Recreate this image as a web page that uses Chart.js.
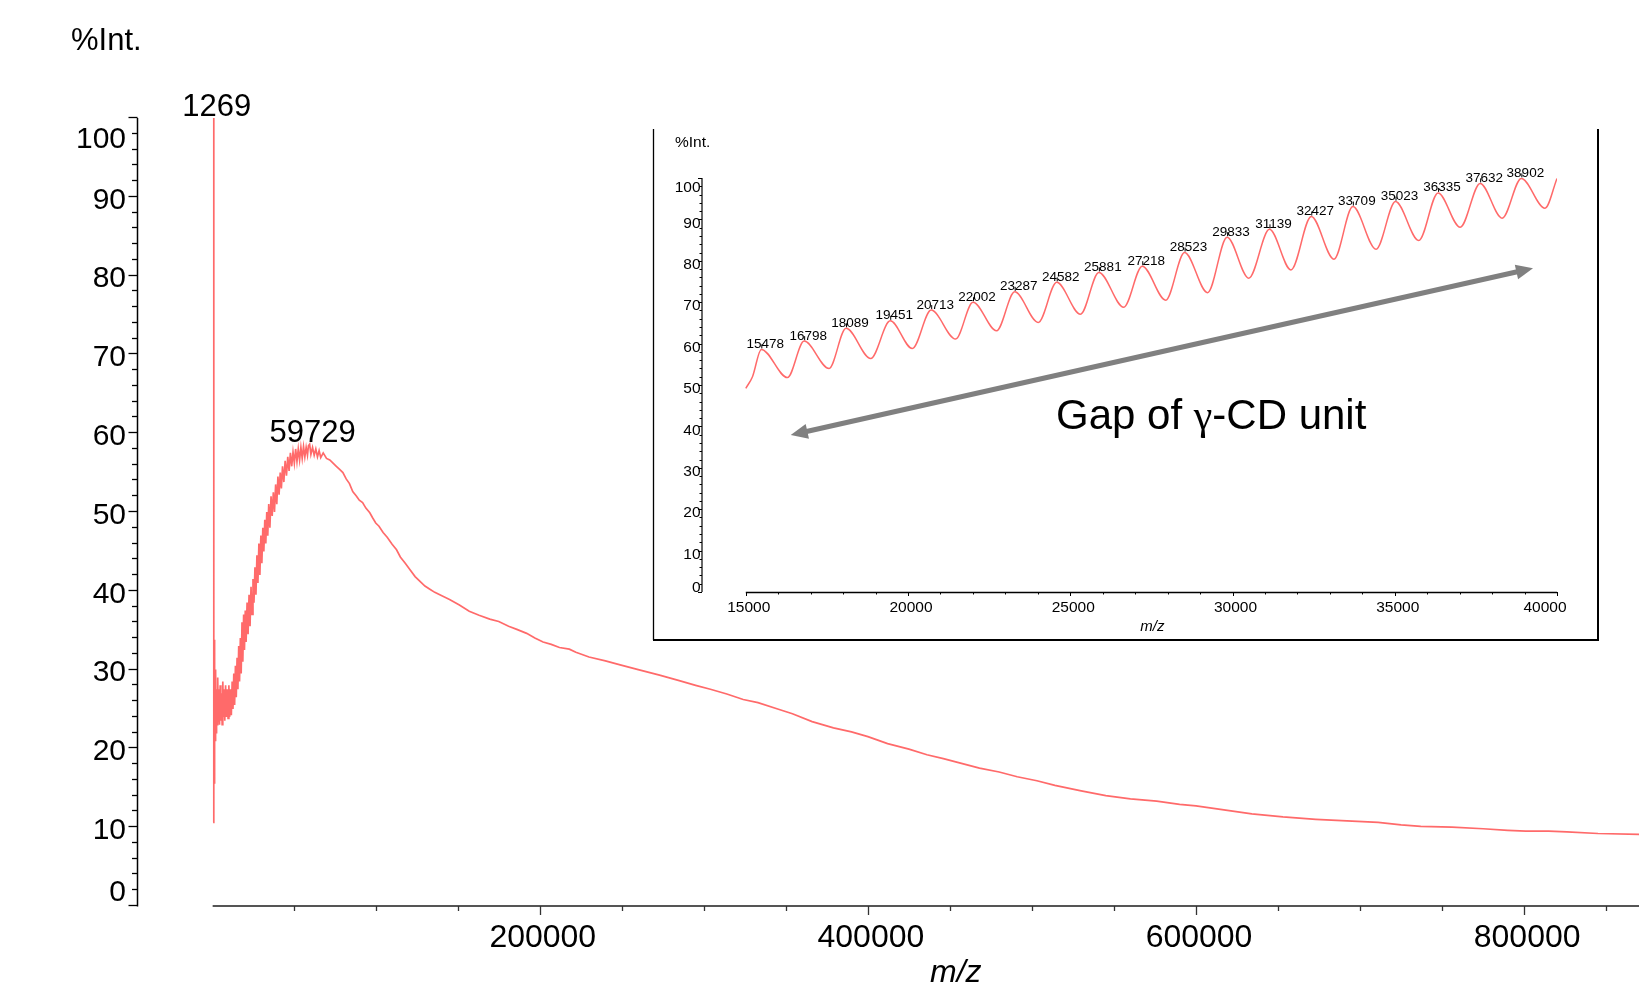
<!DOCTYPE html>
<html><head><meta charset="utf-8">
<script src="https://cdn.jsdelivr.net/npm/chart.js@4.4.1/dist/chart.umd.min.js"></script>
<style>
html,body{margin:0;padding:0;background:#fff;overflow:hidden;width:1639px;height:982px}
#main{position:absolute;left:0;top:0}
#inset{position:absolute;left:652px;top:128px}
</style></head><body>
<canvas id="main" width="1639" height="982"></canvas>
<canvas id="inset" width="948" height="514"></canvas>
<script>
// ---------------- DATA ----------------
const mainMz = [
  900, 1269, 1350, 1500, 1700, 1900, 2100, 2400, 2700, 3000, 3300, 3700, 4000, 4400, 4800, 5200, 5600, 6000, 6400, 6800,
  7200, 7600, 8000, 8500, 9000, 9500, 10000, 10500, 11000, 11500, 12000, 12500, 13000, 13500, 14000, 14500, 15000, 15500, 16000, 16500,
  17000, 17500, 18000, 18500, 19000, 19500, 20000, 20500, 21000, 21600, 22200, 22800, 23400, 24000, 24600, 25200, 25800, 26400, 27000, 27600,
  28200, 28800, 29400, 30000, 30600, 31200, 31800, 32400, 33000, 33600, 34200, 34800, 35500, 36200, 36900, 37600, 38300, 39000, 39700, 40400,
  41100, 41800, 42500, 43200, 44000, 44800, 45600, 46400, 47200, 48000, 48800, 49600, 50400, 51200, 52000, 52800, 53600, 54400, 55200, 56000,
  56800, 57600, 58400, 59000, 59729, 60500, 61500, 62500, 63500, 64500, 65500, 66500, 68000, 70000, 72000, 74000, 76000, 78000, 80000, 82000,
  84000, 86000, 88300, 90000, 92000, 94000, 96400, 98000, 100000, 102000, 104500, 107000, 110000, 112700, 115000, 118000, 120800, 124000, 127000, 130000,
  133000, 136000, 140000, 145000, 151000, 157000, 163000, 169500, 175000, 181000, 186000, 192000, 197000, 202000, 207000, 212000, 218000, 222000, 230000, 240000,
  249000, 260000, 273000, 285000, 295000, 304000, 314000, 324000, 333000, 345000, 354000, 366000, 379000, 390000, 400000, 412000, 425000, 436000, 446000, 457000,
  468000, 480000, 491000, 503000, 514000, 530000, 545000, 560000, 576000, 590000, 600000, 617000, 634000, 653000, 673000, 692000, 711000, 725000, 737000, 756000,
  775000, 790000, 801000, 815000, 826000, 845000, 870000
];
const mainIntensity = [
  10.6, 100, 16, 33.8, 15.5, 29, 21, 30, 22, 27.5, 23, 29, 23.5, 27.5, 23, 28, 23.5, 27, 23, 28.5,
  24, 27.5, 23.5, 28, 24, 27.5, 23.8, 28, 24, 27.5, 24.2, 28.5, 25, 29.5, 25.5, 30.5, 26.5, 31.5, 27.5, 33,
  28.5, 34, 29.5, 36, 31, 37, 32.5, 37.5, 33.5, 38.5, 34.5, 39.5, 35.5, 40.5, 37, 41.5, 38.5, 43, 39.5, 44.5,
  41, 46, 42, 47, 43.5, 48, 45, 49, 46, 50, 47, 51, 48, 52, 49.5, 52.5, 50, 53.5, 51, 54.5,
  52.2, 55, 53, 55.8, 53.8, 56.5, 54.6, 57, 55.2, 57.5, 55.8, 57.6, 56.2, 58, 56.4, 58, 56.6, 58.2, 56.8, 58.3,
  57, 58.2, 57.2, 58.4, 58.6, 57.3, 58.2, 57.2, 58, 57, 57.8, 56.9, 57.5, 56.8, 56.6, 56.2, 55.8, 55.4, 55, 54.2,
  53.6, 52.6, 52, 51.5, 51.2, 50.5, 49.9, 49.3, 48.6, 48.2, 47.4, 46.8, 45.9, 45.2, 44.3, 43.5, 42.7, 41.8, 41.2, 40.6,
  40.2, 39.8, 39.4, 38.9, 38.2, 37.4, 36.9, 36.4, 36.1, 35.5, 35.1, 34.6, 34.0, 33.5, 33.2, 32.8, 32.6, 32.2, 31.6, 31.1,
  30.6, 30.0, 29.3, 28.6, 28.0, 27.5, 26.9, 26.2, 25.8, 25.0, 24.4, 23.4, 22.6, 22.1, 21.5, 20.6, 19.9, 19.2, 18.7, 18.1,
  17.5, 17.0, 16.4, 15.9, 15.3, 14.6, 14.0, 13.6, 13.3, 12.9, 12.7, 12.2, 11.7, 11.3, 11.0, 10.8, 10.6, 10.3, 10.1, 10.0,
  9.8, 9.6, 9.5, 9.5, 9.4, 9.2, 9.1
];
const mainPeakLabels = [1269, 59729];
const mainXTickLabels = [200000, 400000, 600000, 800000];
const mainYTickLabels = [0, 10, 20, 30, 40, 50, 60, 70, 80, 90, 100];

const insetMz = [
  15000, 15206, 15478, 16284, 16798, 17565, 18089, 18849, 19451, 20132, 20713, 21466, 22002, 22728, 23287, 24012, 24582, 25314, 25881, 26647,
  27218, 27941, 28523, 29231, 29833, 30502, 31139, 31801, 32427, 33125, 33709, 34424, 35023, 35739, 36335, 37017, 37632, 38310, 38902, 39630, 40000
];
const insetIntensity = [
  49.2, 52.0, 58.6, 51.8, 60.6, 54.0, 63.7, 56.4, 65.5, 58.8, 68.1, 61.1, 70.0, 63.1, 72.5, 65.1, 74.8, 67.1, 77.2, 68.8,
  78.7, 70.5, 82.0, 72.3, 85.7, 75.8, 87.6, 77.8, 90.7, 80.4, 93.1, 82.8, 94.3, 84.9, 96.4, 88.1, 98.7, 90.3, 99.9, 92.7, 99.9
];
const insetPeakLabels = [15478, 16798, 18089, 19451, 20713, 22002, 23287, 24582, 25881, 27218,
  28523, 29833, 31139, 32427, 33709, 35023, 36335, 37632, 38902];
const insetXTickLabels = [15000, 20000, 25000, 30000, 35000, 40000];
const insetYTickLabels = [0, 10, 20, 30, 40, 50, 60, 70, 80, 90, 100];
// annotation (inset data coordinates)
const arrowFrom = [16385, 37.9];
const arrowTo = [39261, 78.2];
const gapTextAt = [24560, 39.4];

// ---------------- STYLE ----------------
const SANS = '"Liberation Sans", Arial, Helvetica, sans-serif';
const SERIF = '"Liberation Serif", "Times New Roman", serif';
const RED = '#ff6a6a';

function clamp(v, a, b) { return Math.max(a, Math.min(b, v)); }
function valueAt(xs, ys, m) { const i = xs.indexOf(m); return ys[i]; }

const mainDecor = {
  id: 'mainDecor',
  afterDatasetsDraw(chart) {
    const { ctx, chartArea: a, scales: { x, y } } = chart;
    ctx.save();
    // y axis
    ctx.strokeStyle = '#000';
    ctx.lineWidth = 1.5;
    ctx.beginPath(); ctx.moveTo(a.left + 0.5, a.top); ctx.lineTo(a.left + 0.5, a.bottom + 0.5); ctx.stroke();
    ctx.lineWidth = 1.3;
    for (let v = 0; v <= 100; v += 2) {
      const py = Math.round(y.getPixelForValue(v)) - 0.5;
      const len = (v % 10 === 0) ? 9 : 5.5;
      ctx.beginPath(); ctx.moveTo(a.left + 0.5 - len, py); ctx.lineTo(a.left + 0.5, py); ctx.stroke();
    }
    ctx.fillStyle = '#000';
    ctx.font = '30px ' + SANS;
    ctx.textAlign = 'right';
    ctx.textBaseline = 'middle';
    mainYTickLabels.forEach(v => {
      const py = clamp(y.getPixelForValue(v) + 3.5, a.top + 22, a.bottom - 13);
      ctx.fillText(String(v), 126, py);
    });
    // x axis
    const x0 = x.getPixelForValue(0);
    ctx.strokeStyle = '#555';
    ctx.lineWidth = 2;
    ctx.beginPath(); ctx.moveTo(x0 + 1, a.bottom); ctx.lineTo(a.right, a.bottom); ctx.stroke();
    ctx.strokeStyle = '#333';
    ctx.lineWidth = 1.3;
    for (let v = 50000; v <= 870000; v += 50000) {
      const px = Math.round(x.getPixelForValue(v)) + 0.5;
      const len = (v % 200000 === 0) ? 9 : 5;
      ctx.beginPath(); ctx.moveTo(px, a.bottom); ctx.lineTo(px, a.bottom + len); ctx.stroke();
    }
    ctx.font = '32px ' + SANS;
    ctx.textAlign = 'center';
    ctx.textBaseline = 'middle';
    mainXTickLabels.forEach(v => ctx.fillText(String(v), x.getPixelForValue(v) + 3, 938));
    // axis titles
    ctx.font = 'italic 32px ' + SANS;
    ctx.textAlign = 'left';
    ctx.textBaseline = 'alphabetic';
    ctx.fillText('m/z', 930, 982);
    ctx.font = '31px ' + SANS;
    ctx.textBaseline = 'middle';
    ctx.fillText('%Int.', 71, 41);
    // peak labels
    ctx.textAlign = 'center';
    ctx.textBaseline = 'alphabetic';
    ctx.font = '31px ' + SANS;
    mainPeakLabels.forEach(m => {
      const v = valueAt(mainMz, mainIntensity, m);
      ctx.fillText(String(m), x.getPixelForValue(m) + 3, y.getPixelForValue(v) - 2);
    });
    ctx.restore();
  }
};

const insetDecor = {
  id: 'insetDecor',
  beforeDraw(chart) {
    const { ctx, width, height } = chart;
    ctx.save();
    ctx.fillStyle = '#fff';
    ctx.fillRect(0, 0, width, height);
    ctx.restore();
  },
  afterDatasetsDraw(chart) {
    const { ctx, chartArea: a, scales: { x, y }, width, height } = chart;
    ctx.save();
    // frame (open at top)
    ctx.strokeStyle = '#000';
    ctx.lineWidth = 1.3;
    ctx.beginPath(); ctx.moveTo(1.5, 1); ctx.lineTo(1.5, height - 2); ctx.stroke();
    ctx.lineWidth = 2;
    ctx.beginPath(); ctx.moveTo(1, height - 2); ctx.lineTo(width - 2, height - 2); ctx.lineTo(width - 2, 1); ctx.stroke();
    // y axis
    ctx.lineWidth = 1.2;
    ctx.beginPath(); ctx.moveTo(a.left, a.top); ctx.lineTo(a.left, a.bottom); ctx.stroke();
    ctx.lineWidth = 1;
    for (let v = 0; v <= 100; v += 2) {
      const py = Math.round(y.getPixelForValue(v)) + 0.5;
      const len = (v % 10 === 0) ? 4 : 2.5;
      ctx.beginPath(); ctx.moveTo(a.left - len, py); ctx.lineTo(a.left, py); ctx.stroke();
    }
    ctx.fillStyle = '#000';
    ctx.font = '15.5px ' + SANS;
    ctx.textAlign = 'right';
    ctx.textBaseline = 'middle';
    insetYTickLabels.forEach(v => {
      const py = clamp(y.getPixelForValue(v) + 4, a.top + 10, a.bottom - 4);
      ctx.fillText(String(v), a.left - 1.5, py);
    });
    // x axis
    const xs = x.getPixelForValue(15000), xe = x.getPixelForValue(40000);
    ctx.lineWidth = 1.3;
    ctx.beginPath(); ctx.moveTo(xs, a.bottom + 0.5); ctx.lineTo(xe, a.bottom + 0.5); ctx.stroke();
    ctx.lineWidth = 1;
    for (let v = 15000; v <= 40000; v += 1000) {
      const px = Math.round(x.getPixelForValue(v)) + 0.5;
      const len = (v % 5000 === 0) ? 4 : 2.5;
      ctx.beginPath(); ctx.moveTo(px, a.bottom); ctx.lineTo(px, a.bottom + len); ctx.stroke();
    }
    ctx.textAlign = 'center';
    insetXTickLabels.forEach(v => {
      const px = Math.min(x.getPixelForValue(v) + 3, a.right - 12);
      ctx.fillText(String(v), px, a.bottom + 16);
    });
    ctx.font = 'italic 15px ' + SANS;
    ctx.fillText('m/z', (xs + xe) / 2 + 1, a.bottom + 35);
    ctx.font = '15.5px ' + SANS;
    ctx.textAlign = 'left';
    ctx.fillText('%Int.', 23, 15);
    // peak labels
    ctx.font = '13.5px ' + SANS;
    ctx.textAlign = 'center';
    ctx.textBaseline = 'alphabetic';
    insetPeakLabels.forEach(m => {
      const v = valueAt(insetMz, insetIntensity, m);
      const px = x.getPixelForValue(m), py = y.getPixelForValue(v);
      ctx.fillText(String(m), px + 4, py - 1.5);
      ctx.beginPath(); ctx.moveTo(px + 0.5, py - 1); ctx.lineTo(px + 0.5, py - 5); ctx.stroke();
    });
    // double-headed arrow
    const x1 = x.getPixelForValue(arrowFrom[0]), y1 = y.getPixelForValue(arrowFrom[1]);
    const x2 = x.getPixelForValue(arrowTo[0]), y2 = y.getPixelForValue(arrowTo[1]);
    const ang = Math.atan2(y2 - y1, x2 - x1);
    const hl = 17, hw = 7.5;
    const ux = Math.cos(ang), uy = Math.sin(ang);
    ctx.strokeStyle = '#808080';
    ctx.fillStyle = '#808080';
    ctx.lineWidth = 5;
    ctx.beginPath(); ctx.moveTo(x1 + ux * (hl - 2), y1 + uy * (hl - 2)); ctx.lineTo(x2 - ux * (hl - 2), y2 - uy * (hl - 2)); ctx.stroke();
    function head(tx, ty, dx, dy) {
      const bx = tx - dx * hl, by = ty - dy * hl;
      ctx.beginPath();
      ctx.moveTo(tx, ty);
      ctx.lineTo(bx - dy * hw, by + dx * hw);
      ctx.lineTo(bx + dy * hw, by - dx * hw);
      ctx.closePath(); ctx.fill();
    }
    head(x2, y2, ux, uy);
    head(x1, y1, -ux, -uy);
    // annotation text
    ctx.fillStyle = '#000';
    ctx.textAlign = 'left';
    ctx.textBaseline = 'alphabetic';
    let tx = x.getPixelForValue(gapTextAt[0]);
    const ty = y.getPixelForValue(gapTextAt[1]);
    const parts = [['Gap of ', '42px ' + SANS], ['\u03B3', '42px ' + SERIF], ['-CD unit', '42px ' + SANS]];
    parts.forEach(([t, f]) => { ctx.font = f; ctx.fillText(t, tx, ty); tx += ctx.measureText(t).width; });
    ctx.restore();
  }
};

const common = {
  responsive: false, animation: false, devicePixelRatio: 1,
  plugins: { legend: { display: false }, tooltip: { enabled: false } },
  elements: { point: { radius: 0 } }
};

new Chart(document.getElementById('main'), {
  type: 'line',
  data: { datasets: [{
    data: mainMz.map((m, i) => ({ x: m, y: mainIntensity[i] })),
    borderColor: RED, borderWidth: 1.7, pointRadius: 0, tension: 0, fill: false
  }] },
  options: Object.assign({}, common, {
    layout: { padding: { left: 137, top: 118, right: 0, bottom: 76 } },
    scales: {
      x: { type: 'linear', min: -45500, max: 870000, display: false },
      y: { type: 'linear', min: 0, max: 100, display: false }
    }
  }),
  plugins: [mainDecor]
});

new Chart(document.getElementById('inset'), {
  type: 'line',
  data: { datasets: [{
    data: insetMz.map((m, i) => ({ x: m, y: insetIntensity[i] })),
    borderColor: RED, borderWidth: 1.5, pointRadius: 0, cubicInterpolationMode: 'monotone', fill: false
  }] },
  options: Object.assign({}, common, {
    layout: { padding: { left: 50, top: 50, right: 43, bottom: 50 } },
    scales: {
      x: { type: 'linear', min: 13650, max: 40000, display: false },
      y: { type: 'linear', min: 0, max: 100, display: false }
    }
  }),
  plugins: [insetDecor]
});
</script>
</body></html>
